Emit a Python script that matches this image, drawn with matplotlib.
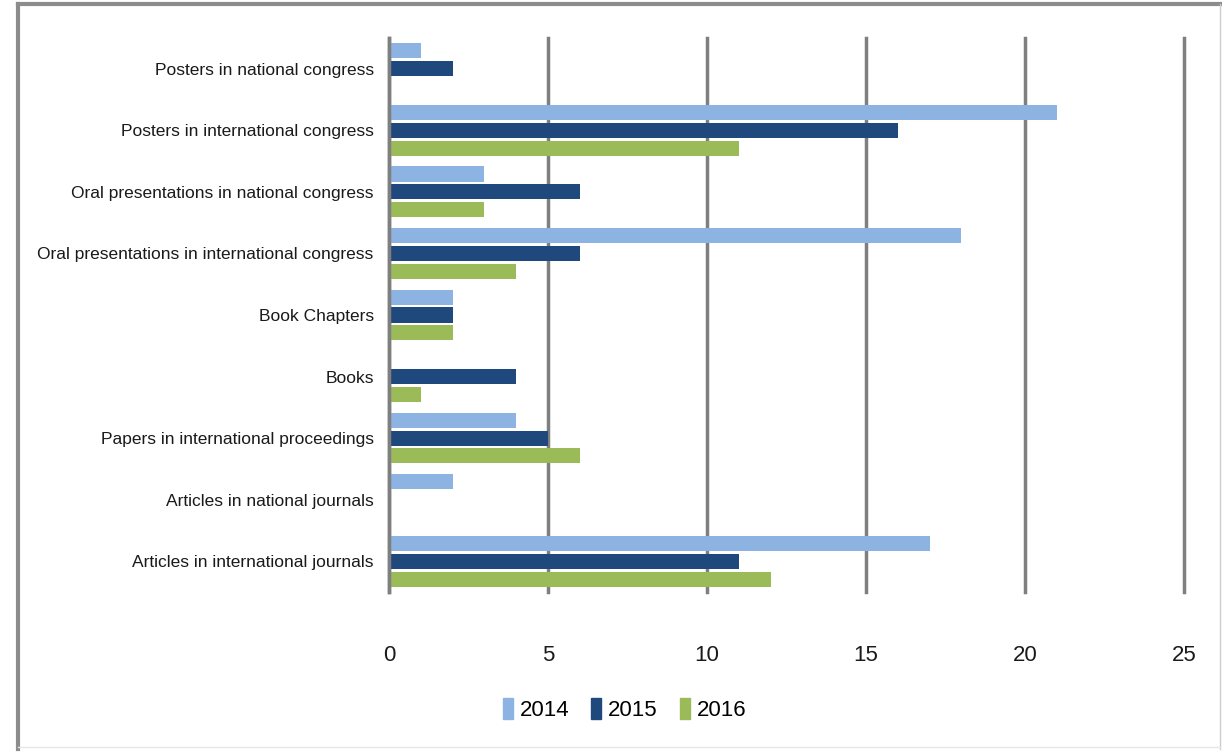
import numpy as np
import matplotlib
matplotlib.use("Agg")
import matplotlib.pyplot as plt
from matplotlib.lines import Line2D
from matplotlib.patches import Patch

plt.rcParams['font.family'] = ['Liberation Sans', 'DejaVu Sans']

categories = ["Posters in national congress",
              "Posters in international congress",
              "Oral presentations in national congress",
              "Oral presentations in international congress",
              "Book Chapters",
              "Books",
              "Papers in international proceedings",
              "Articles in national journals",
              "Articles in international journals"]
years = ["2014", "2015", "2016"]
v2014 = [1, 21, 3, 18, 2, 0, 4, 2, 17]
v2015 = [2, 16, 6, 6, 2, 4, 5, 0, 11]
v2016 = [0, 11, 3, 4, 2, 1, 6, 0, 12]
xticks = [0, 5, 10, 15, 20, 25]

colors = ["#8db3e2", "#1f497d", "#9bbb59"]

fig = plt.figure(figsize=(12.22, 7.52), dpi=100)
ax = fig.add_axes([0.3183, 0.2128, 0.6506, 0.7367])

y = np.arange(len(categories))
pitch = 0.29
height = 0.245
for i, (vals, c, lab) in enumerate(zip([v2014, v2015, v2016], colors, years)):
    ax.barh(y + (i - 1) * pitch, vals, height=height, color=c, label=lab, zorder=3)

ax.set_ylim(len(categories) - 0.5, -0.5)
ax.set_xlim(0, 25)
ax.set_xticks(xticks)
ax.set_xticklabels([str(t) for t in xticks], fontsize=16, color='#1a1a1a')
ax.set_yticks(y)
ax.set_yticklabels(categories, fontsize=12.5, color='#1a1a1a')
ax.tick_params(axis='x', length=0, pad=38)
ax.tick_params(axis='y', length=0, pad=11)
ax.grid(axis='x', color='#7f7f7f', linewidth=2.5, zorder=0)
for gl in ax.get_xgridlines():
    gl.set_clip_on(False)
for s in ['top', 'right', 'bottom']:
    ax.spines[s].set_visible(False)
ax.spines['left'].set_color('#7f7f7f')
ax.spines['left'].set_linewidth(2.5)
ax.spines['left'].set_zorder(4)

handles = [Patch(facecolor=c, edgecolor=c) for c in colors]
fig.legend(handles, years, loc='center', bbox_to_anchor=(0.511, 0.057), ncol=3,
           frameon=False, fontsize=16, handletextpad=0.3, columnspacing=1.0,
           handlelength=0.45, handleheight=1.1)

# outer frame
fig.add_artist(Line2D([0.015, 0.015], [0.004, 0.995], color='#8c8c8c', lw=3,
                      transform=fig.transFigure))
fig.add_artist(Line2D([0.015, 0.998], [0.995, 0.995], color='#8c8c8c', lw=3,
                      transform=fig.transFigure))
fig.add_artist(Line2D([0.998, 0.998], [0.004, 0.995], color='#cccccc', lw=1,
                      transform=fig.transFigure))
fig.add_artist(Line2D([0.015, 0.998], [0.006, 0.006], color='#e6e6e6', lw=1,
                      transform=fig.transFigure))

fig.savefig("out.png", dpi=100, facecolor="white")
